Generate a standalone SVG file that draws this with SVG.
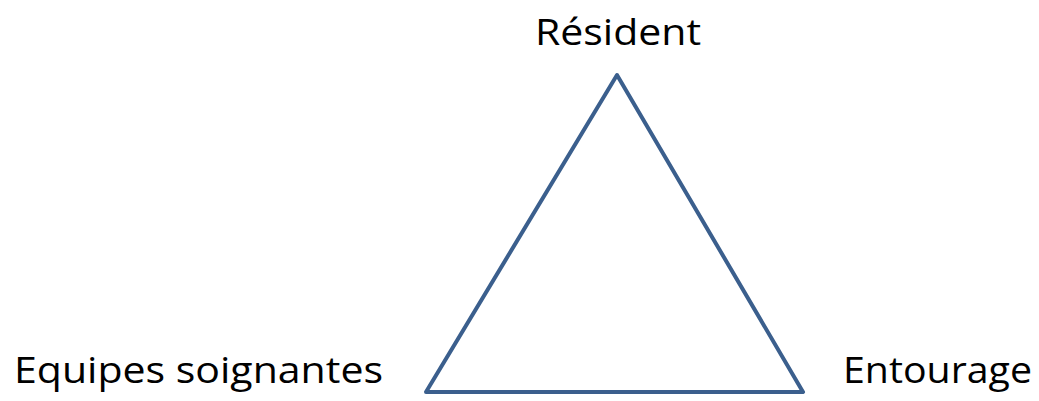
<svg xmlns="http://www.w3.org/2000/svg" width="1039" height="401" viewBox="0 0 1039 401">
<style>
.lbl{font-family:"Open Sans","Noto Sans",sans-serif;font-size:37px;fill:#000}
.edge{fill:none;stroke:#3B5F8D;stroke-width:4;stroke-linejoin:round}
</style>
<rect width="1039" height="401" fill="#fff"/>
<g id="connectors">
<path class="edge" d="M617,75 L803,392 L426,392 Z"/>
</g>
<g id="resident"><text class="lbl" x="535" y="45" textLength="166" lengthAdjust="spacingAndGlyphs">Résident</text></g>
<g id="equipes"><text class="lbl" x="14" y="383" textLength="369" lengthAdjust="spacingAndGlyphs">Equipes soignantes</text></g>
<g id="entourage"><text class="lbl" x="843" y="383" textLength="189" lengthAdjust="spacingAndGlyphs">Entourage</text></g>
</svg>
